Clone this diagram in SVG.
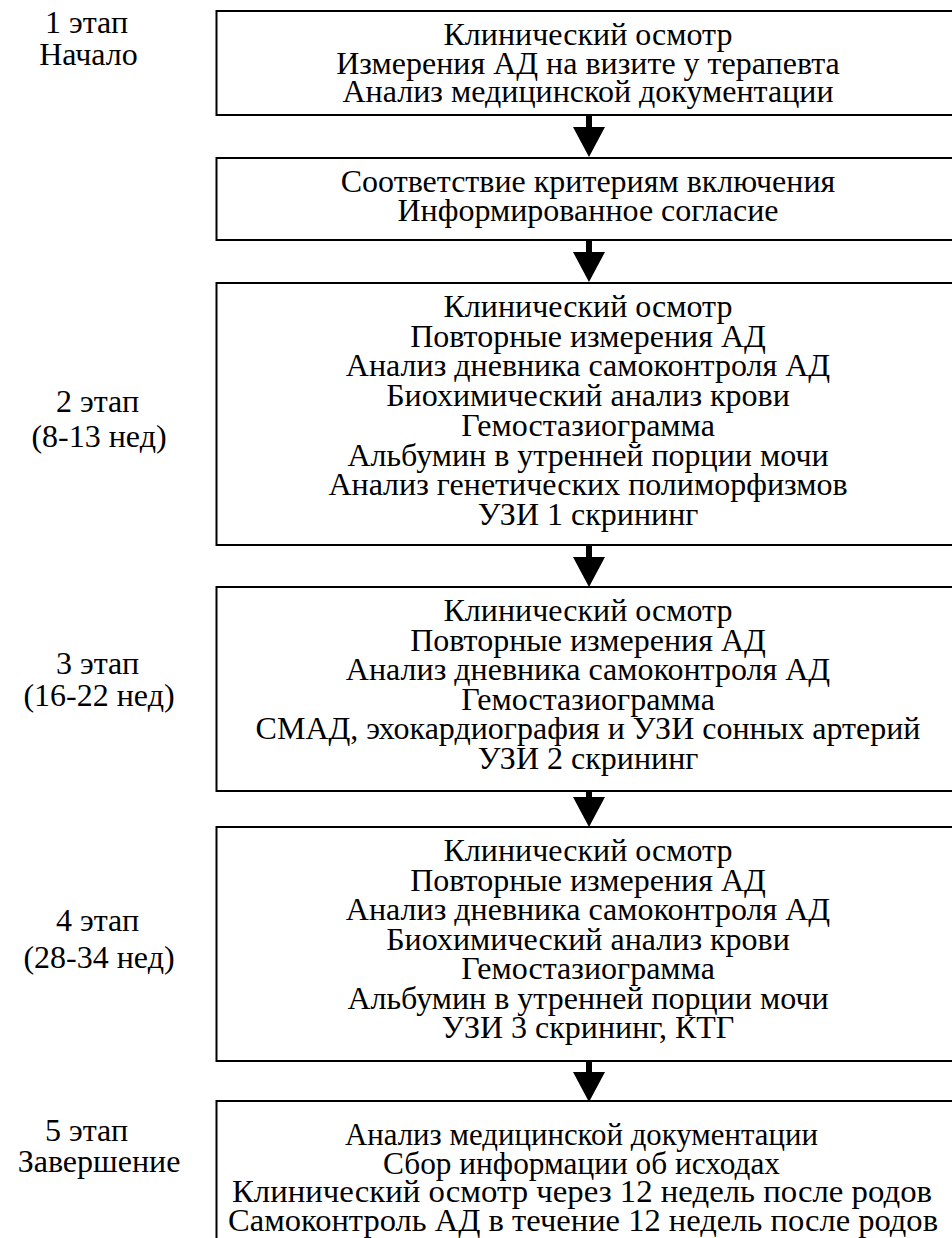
<svg xmlns="http://www.w3.org/2000/svg" width="952" height="1238" viewBox="0 0 952 1238">
<defs>
<path id="arrow" d="M-3 0H3V12H16L0 42L-16 12H-3Z" fill="#000"/>
<path id="arrowShort" d="M-3 0H3V6H16L0 36L-16 6H-3Z" fill="#000"/>
</defs>
<rect width="952" height="1238" fill="#fff"/>
<g id="labels" font-family="Liberation Serif" font-size="32" text-anchor="middle" fill="#000">
<text style="font-family:'Liberation Serif'" x="86.5" y="33">1 этап</text>
<text style="font-family:'Liberation Serif'" x="88.5" y="65">Начало</text>
<text style="font-family:'Liberation Serif'" x="97.5" y="412">2 этап</text>
<text style="font-family:'Liberation Serif'" x="99" y="447">(8-13 нед)</text>
<text style="font-family:'Liberation Serif'" x="97.5" y="674">3 этап</text>
<text style="font-family:'Liberation Serif'" x="99" y="706">(16-22 нед)</text>
<text style="font-family:'Liberation Serif'" x="97.5" y="931">4 этап</text>
<text style="font-family:'Liberation Serif'" x="99" y="968">(28-34 нед)</text>
<text style="font-family:'Liberation Serif'" x="86.5" y="1141">5 этап</text>
<text style="font-family:'Liberation Serif'" x="99" y="1172">Завершение</text>
</g>
<g id="node1" font-family="Liberation Serif" font-size="32" text-anchor="middle" fill="#000">
<rect x="216.5" y="11" width="750" height="104" fill="#fff" stroke="#000" stroke-width="2"/>
<text style="font-family:'Liberation Serif'" x="588" y="45">Клинический осмотр</text>
<text style="font-family:'Liberation Serif'" x="588" y="73.5">Измерения АД на визите у терапевта</text>
<text style="font-family:'Liberation Serif'" x="588" y="102">Анализ медицинской документации</text>
</g>
<g id="node2" font-family="Liberation Serif" font-size="32" text-anchor="middle" fill="#000">
<rect x="216.5" y="158" width="750" height="82" fill="#fff" stroke="#000" stroke-width="2"/>
<text style="font-family:'Liberation Serif'" x="588" y="192">Соответствие критериям включения</text>
<text style="font-family:'Liberation Serif'" x="588" y="221">Информированное согласие</text>
</g>
<g id="node3" font-family="Liberation Serif" font-size="32" text-anchor="middle" fill="#000">
<rect x="216.5" y="283" width="750" height="262" fill="#fff" stroke="#000" stroke-width="2"/>
<text style="font-family:'Liberation Serif'" x="588" y="317">Клинический осмотр</text>
<text style="font-family:'Liberation Serif'" x="588" y="346.7">Повторные измерения АД</text>
<text style="font-family:'Liberation Serif'" x="588" y="376.4">Анализ дневника самоконтроля АД</text>
<text style="font-family:'Liberation Serif'" x="588" y="406.1">Биохимический анализ крови</text>
<text style="font-family:'Liberation Serif'" x="588" y="435.8">Гемостазиограмма</text>
<text style="font-family:'Liberation Serif'" x="588" y="465.5">Альбумин в утренней порции мочи</text>
<text style="font-family:'Liberation Serif'" x="588" y="495.2">Анализ генетических полиморфизмов</text>
<text style="font-family:'Liberation Serif'" x="588" y="524.9">УЗИ 1 скрининг</text>
</g>
<g id="node4" font-family="Liberation Serif" font-size="32" text-anchor="middle" fill="#000">
<rect x="216.5" y="587" width="750" height="204" fill="#fff" stroke="#000" stroke-width="2"/>
<text style="font-family:'Liberation Serif'" x="588" y="621">Клинический осмотр</text>
<text style="font-family:'Liberation Serif'" x="588" y="650.5">Повторные измерения АД</text>
<text style="font-family:'Liberation Serif'" x="588" y="680">Анализ дневника самоконтроля АД</text>
<text style="font-family:'Liberation Serif'" x="588" y="709.5">Гемостазиограмма</text>
<text style="font-family:'Liberation Serif'" x="588" y="739">СМАД, эхокардиография и УЗИ сонных артерий</text>
<text style="font-family:'Liberation Serif'" x="588" y="768.5">УЗИ 2 скрининг</text>
</g>
<g id="node5" font-family="Liberation Serif" font-size="32" text-anchor="middle" fill="#000">
<rect x="216.5" y="827" width="750" height="234" fill="#fff" stroke="#000" stroke-width="2"/>
<text style="font-family:'Liberation Serif'" x="588" y="861">Клинический осмотр</text>
<text style="font-family:'Liberation Serif'" x="588" y="890.5">Повторные измерения АД</text>
<text style="font-family:'Liberation Serif'" x="588" y="920">Анализ дневника самоконтроля АД</text>
<text style="font-family:'Liberation Serif'" x="588" y="949.5">Биохимический анализ крови</text>
<text style="font-family:'Liberation Serif'" x="588" y="979">Гемостазиограмма</text>
<text style="font-family:'Liberation Serif'" x="588" y="1008.5">Альбумин в утренней порции мочи</text>
<text style="font-family:'Liberation Serif'" x="588" y="1038">УЗИ 3 скрининг, КТГ</text>
</g>
<g id="node6" font-family="Liberation Serif" font-size="32" text-anchor="middle" fill="#000">
<rect x="216.5" y="1101" width="750" height="160" fill="#fff" stroke="#000" stroke-width="2"/>
<text style="font-family:'Liberation Serif'" x="581.5" y="1145" textLength="473" lengthAdjust="spacingAndGlyphs">Анализ медицинской документации</text>
<text style="font-family:'Liberation Serif'" x="581.5" y="1173.5" textLength="397" lengthAdjust="spacingAndGlyphs">Сбор информации об исходах</text>
<text style="font-family:'Liberation Serif'" x="582" y="1202" textLength="700" lengthAdjust="spacingAndGlyphs">Клинический осмотр через 12 недель после родов</text>
<text style="font-family:'Liberation Serif'" x="583" y="1230.5" textLength="710" lengthAdjust="spacingAndGlyphs">Самоконтроль АД в течение 12 недель после родов</text>
</g>
<g id="connectors">
<use href="#arrow" x="589" y="115"/>
<use href="#arrow" x="589" y="240"/>
<use href="#arrow" x="589" y="545"/>
<use href="#arrowShort" x="589" y="791"/>
<use href="#arrow" x="589" y="1060"/>
</g>
</svg>
